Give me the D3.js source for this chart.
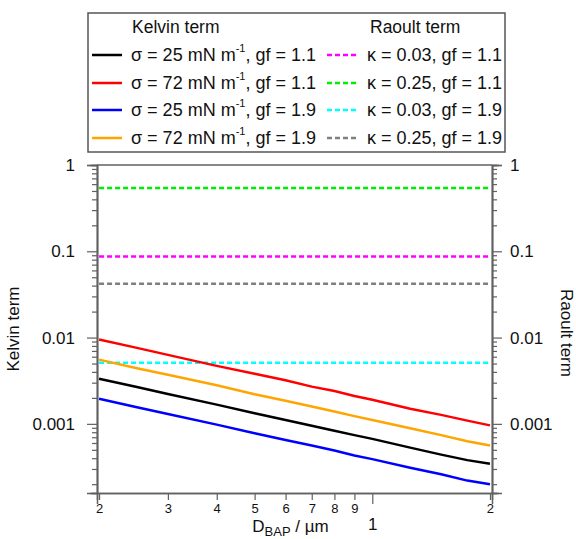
<!DOCTYPE html>
<html>
<head>
<meta charset="utf-8">
<script src="https://cdn.jsdelivr.net/npm/d3@7"></script>
<style>
  body { margin: 0; background: #fff; }
  text { font-family: "Liberation Sans", Arial, sans-serif; fill: #111; }
</style>
</head>
<body>
<div id="chart"></div>
<script>
// dry diameter (um)
var diam = [0.2, 0.25, 0.3, 0.4, 0.5, 0.6, 0.7, 0.8, 0.9, 1.0, 1.25, 1.5, 1.75, 2.0];

// Kelvin term curves
var kelvin25gf11 = [0.00333, 0.00267, 0.00222, 0.00167, 0.00133, 0.00111, 0.00095, 0.00083, 0.00074, 0.00067, 0.00053, 0.00044, 0.00038, 0.000345];
var kelvin72gf11 = [0.0095, 0.0076, 0.0063, 0.0047, 0.0038, 0.0032, 0.0027, 0.0024, 0.0021, 0.0019, 0.0015, 0.00127, 0.00109, 0.00096];
var kelvin25gf19 = [0.00195, 0.00156, 0.0013, 0.00098, 0.00078, 0.00065, 0.00056, 0.00049, 0.00043, 0.00039, 0.00031, 0.00026, 0.00022, 0.0002];
var kelvin72gf19 = [0.00555, 0.0044, 0.0037, 0.0028, 0.0022, 0.00185, 0.00159, 0.00139, 0.00123, 0.00111, 0.00089, 0.00074, 0.00063, 0.00056];

// Raoult term (constant over diameter)
var raoultLabels = ["κ = 0.03, gf = 1.1", "κ = 0.25, gf = 1.1", "κ = 0.03, gf = 1.9", "κ = 0.25, gf = 1.9"];
var raoultValues = [0.087, 0.54, 0.0051, 0.042];

var kelvinLabels = ["25", "72", "25", "72"];
var kelvinGf = ["1.1", "1.1", "1.9", "1.9"];

var kelvinColors = ["#000000", "#ff0000", "#0000ff", "#ffa500"];
var raoultColors = ["#ff00ff", "#00ee00", "#00ffff", "#808080"];

var xMinorTicks = [0.2, 0.3, 0.4, 0.5, 0.6, 0.7, 0.8, 0.9, 2];
var xMinorLabels = ["2", "3", "4", "5", "6", "7", "8", "9", "2"];
var yMajorTicks = [0.001, 0.01, 0.1, 1];
var yMajorLabels = ["0.001", "0.01", "0.1", "1"];

var W = 576, H = 539;
var margin = { top: 165, left: 97, right: 84, bottom: 46 };
var width = W - margin.left - margin.right,
    height = H - margin.top - margin.bottom;

var axisColor = "#606060";

var svg = d3.select("#chart")
    .append("svg")
    .attr("width", W)
    .attr("height", H);

var g = svg.append("g")
    .attr("transform", "translate(" + margin.left + "," + margin.top + ")");

var x = d3.scaleLog()
    .domain([0.1976, 2.024])
    .range([0, width]);

var y = d3.scaleLog()
    .domain([0.000158, 1])
    .range([height, 0]);

// minor y ticks (2..9 of each decade), the 5 tick a bit longer
var yMinor = [];
[0.0001, 0.001, 0.01, 0.1].forEach(function (dec) {
    for (var k = 2; k <= 9; k++) {
        var v = dec * k;
        if (v >= 0.000158 && v < 1) yMinor.push(v);
    }
});
var yMid = yMinor.filter(function (v) { return Math.abs(Math.log10(v) - Math.round(Math.log10(v) - 0.699) - 0.699) < 1e-6; });
var ySmall = yMinor.filter(function (v) { return yMid.indexOf(v) < 0; });

function styleAxis(sel) {
    sel.select(".domain").attr("stroke", axisColor).attr("stroke-width", 1.5);
    sel.selectAll(".tick line").attr("stroke", axisColor).attr("stroke-width", 1.2);
    sel.selectAll(".tick text").style("font-size", "17px").attr("fill", "#111");
}

// frame top line
g.append("line")
    .attr("x1", 0).attr("x2", width)
    .attr("y1", 0).attr("y2", 0)
    .attr("stroke", axisColor).attr("stroke-width", 1.5);

// left and right axes
[[d3.axisLeft, 0, 12], [d3.axisRight, width, 8]].forEach(function (a) {
    var gen = a[0];
    g.append("g").attr("transform", "translate(" + a[1] + ",0)")
        .call(gen(y).tickValues(ySmall).tickSize(5).tickFormat(""))
        .call(styleAxis);
    g.append("g").attr("transform", "translate(" + a[1] + ",0)")
        .call(gen(y).tickValues(yMid).tickSize(7).tickFormat(""))
        .call(styleAxis);
    g.append("g").attr("transform", "translate(" + a[1] + ",0)")
        .call(gen(y).tickValues(yMajorTicks).tickSize(10).tickPadding(a[2])
            .tickFormat(function (d, i) { return yMajorLabels[i]; }))
        .call(styleAxis);
});

// bottom axis: minor ticks with small labels, major tick at 1
g.append("g").attr("transform", "translate(0," + height + ")")
    .call(d3.axisBottom(x).tickValues(xMinorTicks).tickSize(7).tickPadding(4)
        .tickFormat(function (d, i) { return xMinorLabels[i]; }))
    .call(styleAxis)
    .call(function (s) { s.selectAll(".tick text").style("font-size", "13px"); });

g.append("g").attr("transform", "translate(0," + height + ")")
    .call(d3.axisBottom(x).tickValues([1]).tickSize(11).tickPadding(14)
        .tickFormat(function () { return "1"; }))
    .call(styleAxis);

// axis titles
g.append("text")
    .attr("transform", "translate(" + (-78) + "," + (height / 2) + ") rotate(-90)")
    .attr("text-anchor", "middle")
    .style("font-size", "17px")
    .text("Kelvin term");

g.append("text")
    .attr("transform", "translate(" + (width + 69) + "," + (height / 2 + 4) + ") rotate(90)")
    .attr("text-anchor", "middle")
    .style("font-size", "17px")
    .text("Raoult term");

var xt = g.append("text")
    .attr("x", width / 2 - 4)
    .attr("y", height + 39)
    .attr("text-anchor", "middle")
    .style("font-size", "17px");
xt.append("tspan").text("D");
xt.append("tspan").attr("dy", 4).style("font-size", "13px").text("BAP");
xt.append("tspan").attr("dy", -4).text(" / µm");

// Raoult dashed lines
raoultValues.forEach(function (v, i) {
    g.append("path")
        .datum(diam)
        .attr("fill", "none")
        .attr("stroke", raoultColors[i])
        .attr("stroke-width", 2.5)
        .attr("stroke-dasharray", "5,3")
        .attr("d", d3.line()
            .x(function (d) { return x(d); })
            .y(function () { return y(v); }));
});

// Kelvin lines
var kelvinSeries = [kelvin25gf11, kelvin72gf11, kelvin25gf19, kelvin72gf19];
kelvinSeries.forEach(function (s, i) {
    g.append("path")
        .datum(s)
        .attr("fill", "none")
        .attr("stroke", kelvinColors[i])
        .attr("stroke-width", 2.5)
        .attr("d", d3.line()
            .x(function (d, j) { return x(diam[j]); })
            .y(function (d) { return y(d); }));
});

// legend
var leg = svg.append("g");
leg.append("rect")
    .attr("x", 88).attr("y", 13)
    .attr("width", 417).attr("height", 139)
    .attr("fill", "#fff")
    .attr("stroke", "#555").attr("stroke-width", 1.5);

leg.append("text").attr("x", 132).attr("y", 33).style("font-size", "17.5px").text("Kelvin term");
leg.append("text").attr("x", 370).attr("y", 33).style("font-size", "17.5px").text("Raoult term");

var rowY = [55, 83, 110, 138];
rowY.forEach(function (ry, i) {
    leg.append("line")
        .attr("x1", 92).attr("x2", 122).attr("y1", ry).attr("y2", ry)
        .attr("stroke", kelvinColors[i]).attr("stroke-width", 2.5);
    var t = leg.append("text").attr("x", 131).attr("y", ry + 6).style("font-size", "18px");
    t.append("tspan").text("σ = " + kelvinLabels[i] + " mN m");
    t.append("tspan").attr("dy", -9).style("font-size", "11px").text("-1");
    t.append("tspan").attr("dy", 9).text(", gf = " + kelvinGf[i]);

    leg.append("line")
        .attr("x1", 327).attr("x2", 358).attr("y1", ry).attr("y2", ry)
        .attr("stroke", raoultColors[i]).attr("stroke-width", 2.5)
        .attr("stroke-dasharray", "5,3");
    leg.append("text").attr("x", 367).attr("y", ry + 6).style("font-size", "18px").text(raoultLabels[i]);
});
</script>
</body>
</html>
